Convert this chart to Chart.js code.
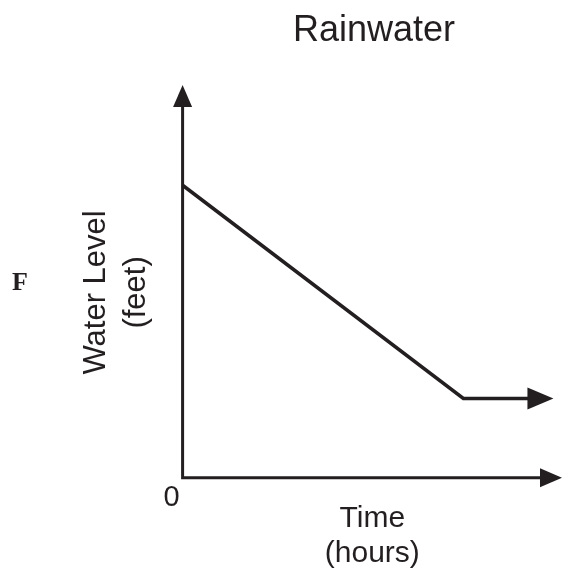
<!DOCTYPE html>
<html>
<head>
    <title>Rainwater</title>
    <script src="https://cdn.jsdelivr.net/npm/chart.js@4.4.0/dist/chart.umd.min.js"></script>
    <style>
        body {
            margin: 0;
            background: #ffffff;
        }

        #chartBox {
            width: 574px;
            height: 576px;
        }
    </style>
</head>
<body>
    <div id="chartBox">
        <canvas id="rainChart"></canvas>
    </div>

    <script>
        // values (x = hours, y = water level, no units given)
        const hours = [0, 7.4, 9.3];
        const waterLevel = [7.89, 2.14, 2.14];
        const xTitle = ['Time', '(hours)'];
        const yTitle = ['Water Level', '(feet)'];
        const chartTitle = 'Rainwater';
        const originLabel = '0';
        const sideLetter = 'F';

        const ink = '#231f20';
        const fontName = "'Liberation Sans', Arial, sans-serif";

        function arrowHead(ctx, tipX, tipY, angle, len, width) {
            ctx.save();
            ctx.translate(tipX, tipY);
            ctx.rotate(angle);
            ctx.beginPath();
            ctx.moveTo(0, 0);
            ctx.lineTo(-len, -width / 2);
            ctx.lineTo(-len, width / 2);
            ctx.closePath();
            ctx.fill();
            ctx.restore();
        }

        const axesAndLabels = {
            id: 'axesAndLabels',
            beforeDatasetsDraw(chart) {
                const ctx = chart.ctx;
                const area = chart.chartArea;
                const x0 = chart.scales.x.getPixelForValue(0);
                const y0 = chart.scales.y.getPixelForValue(0);
                ctx.save();
                ctx.strokeStyle = ink;
                ctx.fillStyle = ink;
                ctx.lineWidth = 3;
                ctx.lineJoin = 'miter';
                ctx.beginPath();
                ctx.moveTo(x0, area.top - 10);
                ctx.lineTo(x0, y0);
                ctx.lineTo(area.right - 10, y0);
                ctx.stroke();
                // y arrow sits above the plot area, x arrow ends at its right edge
                arrowHead(ctx, x0, area.top - 22, -Math.PI / 2, 22, 19);
                arrowHead(ctx, area.right, y0, 0, 22, 19);
                ctx.restore();
            },
            afterDatasetsDraw(chart) {
                const ctx = chart.ctx;
                const pts = chart.getDatasetMeta(0).data;
                const a = pts[pts.length - 2];
                const b = pts[pts.length - 1];
                const ang = Math.atan2(b.y - a.y, b.x - a.x);
                ctx.save();
                ctx.fillStyle = ink;
                arrowHead(ctx, b.x + 18 * Math.cos(ang), b.y + 18 * Math.sin(ang), ang, 26, 22);

                const x0 = chart.scales.x.getPixelForValue(0);
                const y0 = chart.scales.y.getPixelForValue(0);
                ctx.textAlign = 'center';
                ctx.textBaseline = 'middle';
                ctx.font = '29px ' + fontName;
                ctx.fillText(originLabel, x0 - 11, y0 + 20);

                ctx.font = '36px ' + fontName;
                ctx.fillText(chartTitle, 374, 31);

                ctx.font = "bold 26px 'Liberation Serif', 'Times New Roman', serif";
                ctx.fillText(sideLetter, 20, 283);
                ctx.restore();
            }
        };

        const points = hours.map((h, i) => ({ x: h, y: waterLevel[i] }));

        new Chart(document.getElementById('rainChart'), {
            type: 'line',
            data: {
                datasets: [{
                    data: points,
                    borderColor: ink,
                    borderWidth: 3.5,
                    pointRadius: 0,
                    tension: 0,
                    clip: false
                }]
            },
            options: {
                responsive: true,
                maintainAspectRatio: false,
                animation: false,
                layout: {
                    padding: { top: 107, right: 12, bottom: 5, left: 76 }
                },
                plugins: {
                    legend: { display: false },
                    title: { display: false },
                    tooltip: { enabled: false }
                },
                scales: {
                    x: {
                        type: 'linear',
                        min: 0,
                        max: 10,
                        grid: { display: false },
                        border: { display: false },
                        ticks: { display: false },
                        title: {
                            display: true,
                            text: xTitle,
                            color: ink,
                            font: { family: fontName, size: 30, lineHeight: 1.17 },
                            padding: { top: 15, bottom: 0 }
                        }
                    },
                    y: {
                        min: 0,
                        max: 10,
                        grid: { display: false },
                        border: { display: false },
                        ticks: { display: false },
                        title: {
                            display: true,
                            text: yTitle,
                            color: ink,
                            font: { family: fontName, size: 31, lineHeight: 1.3 },
                            padding: { top: 0, bottom: 18 }
                        }
                    }
                }
            },
            plugins: [axesAndLabels]
        });
    </script>
</body>
</html>
